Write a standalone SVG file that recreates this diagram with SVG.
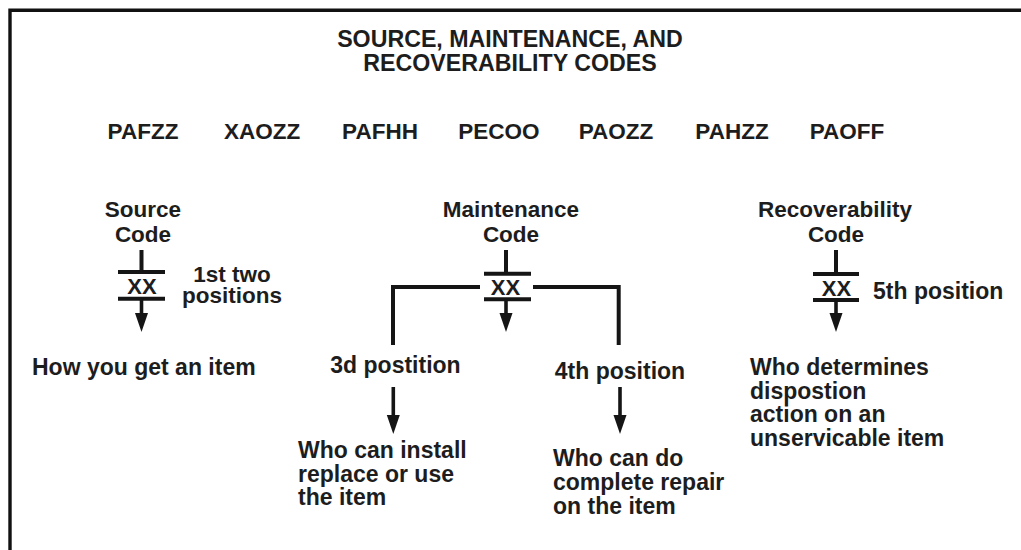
<svg xmlns="http://www.w3.org/2000/svg" width="1021" height="550" viewBox="0 0 1021 550">
  <style>
    text { font-family: "Liberation Sans", Arial, sans-serif; font-weight: bold; fill: #1d1d1d; }
    .hd { font-size: 22.5px; text-anchor: middle; }
    .ttl { font-size: 23.2px; text-anchor: middle; }
    .code { font-size: 22.5px; text-anchor: middle; }
    .lbl { font-size: 23px; }
    .pos { font-size: 22.5px; text-anchor: middle; }
    .xx { font-size: 22px; text-anchor: middle; }
    .ln { stroke: #151515; stroke-width: 4; fill: none; }
    .arw { stroke: #151515; stroke-width: 3.6; fill: none; marker-end: url(#head); }
  </style>
  <defs>
    <marker id="head" markerUnits="userSpaceOnUse" markerWidth="20" markerHeight="14" refX="5" refY="7" orient="auto" viewBox="0 0 20 14">
      <path d="M0,0.5 L19,7 L0,13.5 Z" fill="#151515"/>
    </marker>
  </defs>
  <rect width="1021" height="550" fill="#ffffff"/>

  <!-- frame: open on the right and bottom -->
  <path d="M10,550 V10.3 H1021" fill="none" stroke="#111" stroke-width="3.4"/>

  <g id="title">
    <text class="ttl" x="510" y="47">SOURCE, MAINTENANCE, AND</text>
    <text class="ttl" x="510" y="71">RECOVERABILITY CODES</text>
  </g>

  <g id="examples">
    <text class="code" x="143" y="139">PAFZZ</text>
    <text class="code" x="262" y="139">XAOZZ</text>
    <text class="code" x="380" y="139">PAFHH</text>
    <text class="code" x="499" y="139">PECOO</text>
    <text class="code" x="616" y="139">PAOZZ</text>
    <text class="code" x="732" y="139">PAHZZ</text>
    <text class="code" x="847" y="139">PAOFF</text>
  </g>

  <g id="source-code">
    <text class="hd" x="143" y="217">Source</text>
    <text class="hd" x="143" y="242">Code</text>
    <line class="ln" x1="118" y1="272" x2="165" y2="272"/>
    <text class="xx" x="142" y="294">XX</text>
    <line class="ln" x1="118" y1="298.7" x2="165" y2="298.7"/>
    <text class="pos" x="232" y="282">1st two<tspan x="232" dy="21">positions</tspan></text>
  </g>

  <g id="maintenance-code">
    <text class="hd" x="511" y="217">Maintenance</text>
    <text class="hd" x="511" y="242">Code</text>
    <line class="ln" x1="484" y1="273.7" x2="531" y2="273.7"/>
    <text class="xx" x="505.5" y="295">XX</text>
    <line class="ln" x1="484" y1="299.3" x2="531" y2="299.3"/>
  </g>

  <g id="recoverability-code">
    <text class="hd" x="835" y="217">Recoverability</text>
    <text class="hd" x="836" y="242">Code</text>
    <line class="ln" x1="813" y1="274" x2="859" y2="274"/>
    <text class="xx" x="836.5" y="295.5">XX</text>
    <line class="ln" x1="813" y1="300" x2="859" y2="300"/>
    <text class="lbl" x="873" y="298.5">5th position</text>
  </g>

  <g id="source-result">
    <text class="lbl" x="32" y="375">How you get an item</text>
  </g>

  <g id="third-position">
    <text class="lbl" x="395.5" y="373" text-anchor="middle">3d postition</text>
  </g>

  <g id="fourth-position">
    <text class="lbl" x="620" y="378.5" text-anchor="middle">4th position</text>
  </g>

  <g id="third-result">
    <text class="lbl" x="298" y="458">Who can install</text>
    <text class="lbl" x="298" y="481.5">replace or use</text>
    <text class="lbl" x="298" y="505">the item</text>
  </g>

  <g id="fourth-result">
    <text class="lbl" x="553" y="466">Who can do</text>
    <text class="lbl" x="553" y="490">complete repair</text>
    <text class="lbl" x="553" y="513.5">on the item</text>
  </g>

  <g id="recoverability-result">
    <text class="lbl" x="750" y="375">Who determines</text>
    <text class="lbl" x="750" y="398.5">dispostion</text>
    <text class="lbl" x="750" y="422">action on an</text>
    <text class="lbl" x="750" y="445.5">unservicable item</text>
  </g>

  <g id="connectors">
    <!-- stems into the XX boxes -->
    <line class="ln" x1="141.5" y1="250" x2="141.5" y2="272"/>
    <line class="ln" x1="506" y1="250" x2="506" y2="273.7"/>
    <line class="ln" x1="836" y1="250" x2="836" y2="274"/>
    <!-- arrows out of the XX boxes -->
    <line class="arw" x1="141.5" y1="298.7" x2="141.5" y2="318"/>
    <line class="arw" x1="506" y1="299.3" x2="506" y2="318"/>
    <line class="arw" x1="836" y1="300" x2="836" y2="318"/>
    <!-- maintenance split into 3d and 4th position -->
    <path class="ln" d="M480,287 H393 V345"/>
    <path class="ln" d="M533,287 H618.7 V345"/>
    <!-- position arrows -->
    <line class="arw" x1="393.3" y1="387" x2="393.3" y2="420"/>
    <line class="arw" x1="620" y1="387" x2="620" y2="420"/>
  </g>
</svg>
